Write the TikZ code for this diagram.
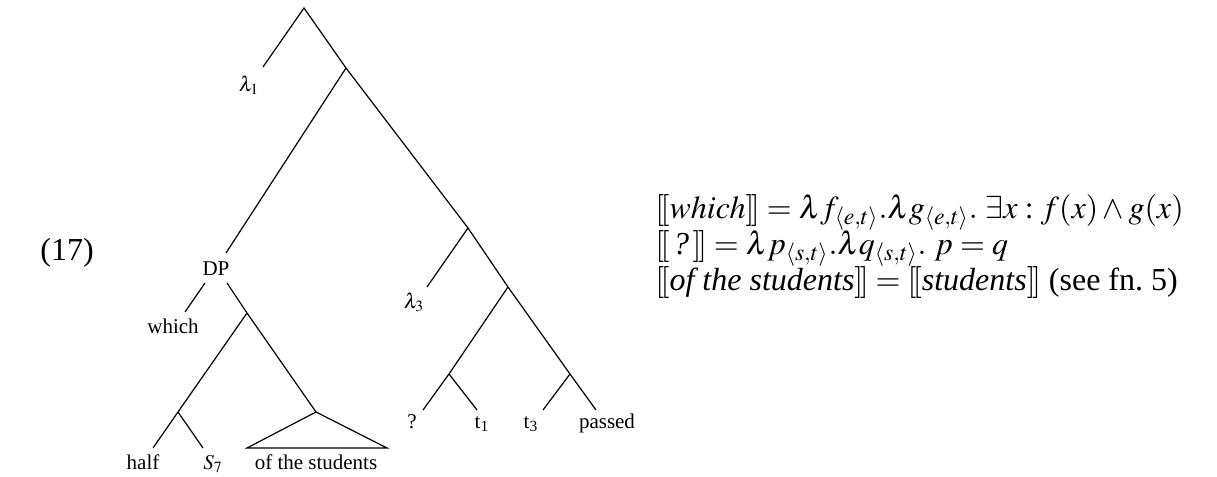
\documentclass[tikz,border=0pt]{standalone}
\usepackage{mathptmx}
\usepackage[no-math]{fontspec}
\setmainfont{Liberation Serif}
\newcommand{\dbl}{[\![}
\newcommand{\dbr}{]\!]}
\begin{document}
\begin{tikzpicture}[x=0.5pt,y=-0.5pt,
  branch/.style={line width=0.6pt},
  lab/.style={font=\fontsize{10.5}{12.6}\selectfont, inner sep=0pt, anchor=base},
  formula/.style={font=\fontsize{16}{18}\selectfont, inner sep=0pt, anchor=base west}]
\useasboundingbox (0,0) rectangle (1217,477);
% branch points
\coordinate (R) at (304,8);
\coordinate (N1) at (346,68);
\coordinate (N2) at (468,228);
\coordinate (N3) at (508,287);
\coordinate (N4) at (449,374);
\coordinate (N5) at (570,374);
\coordinate (N6) at (247,313);
\coordinate (N7) at (178,412);
\coordinate (T) at (316,412);
\coordinate (TL) at (247,448);
\coordinate (TR) at (387,448);
% free ends
\coordinate (eL1) at (263,67);
\coordinate (eDP) at (226,253);
\coordinate (eL3) at (427,287);
\coordinate (eQ) at (423,410);
\coordinate (eT1) at (477,410);
\coordinate (eT3) at (543,410);
\coordinate (eP) at (596,410);
\coordinate (eDPl) at (205,283);
\coordinate (eDPr) at (227,283);
\coordinate (eW) at (185,312);
\coordinate (eH) at (153,448);
\coordinate (eS) at (203,448);
% labels
\node[lab] (l1) at (249,91) {$\lambda_1$};
\node[lab] (dp) at (216,275) {DP};
\node[lab] (which) at (173,333) {which};
\node[lab] (l3) at (414,308) {$\lambda_3$};
\node[lab] (q) at (412,428) {?};
\node[lab] (t1) at (482,428) {t\textsubscript{1}};
\node[lab] (t3) at (531,428) {t\textsubscript{3}};
\node[lab] (passed) at (607,428) {passed};
\node[lab] (half) at (143,469) {half};
\node[lab] (s7) at (213,469) {$S_7$};
\node[lab] (ots) at (316,469) {of the students};
% tree
\draw[branch] (eL1) -- (R) -- (N1) -- (N2) -- (N3) -- (N5) -- (eP);
\draw[branch] (N1) -- (eDP);
\draw[branch] (N2) -- (eL3);
\draw[branch] (N3) -- (N4) -- (eQ);
\draw[branch] (N4) -- (eT1);
\draw[branch] (N5) -- (eT3);
\draw[branch] (eW) -- (eDPl);
\draw[branch] (eDPr) -- (N6) -- (N7) -- (eH);
\draw[branch] (N7) -- (eS);
\draw[branch] (N6) -- (T);
\draw[branch] (T) -- (TL) -- (TR) -- cycle;
% example number and formulas
\node[formula] (num) at (40,260) {(17)};
\node[formula] (f1) at (655,218) {$\dbl\mathit{which}\dbr = \lambda f_{\langle e,t\rangle}.\lambda g_{\langle e,t\rangle}.\ \exists x: f(x)\wedge g(x)$};
\node[formula] (f2) at (655,254) {$\dbl\,\textit{?}\,\dbr = \lambda p_{\langle s,t\rangle}.\lambda q_{\langle s,t\rangle}.\ p=q$};
\node[formula] (f3) at (655,290) {$\dbl\textit{of the students}\dbr = \dbl\textit{students}\dbr$ (see fn.~5)};
\end{tikzpicture}
\end{document}
